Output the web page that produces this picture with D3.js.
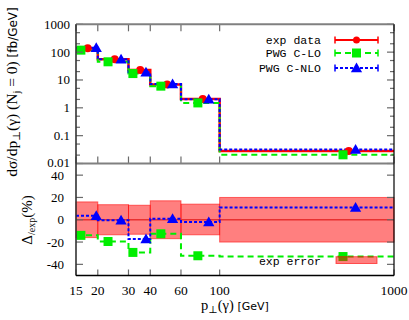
<!DOCTYPE html>
<html><head><meta charset="utf-8">
<script src="https://cdn.jsdelivr.net/npm/d3@7/dist/d3.min.js"></script>
<style>body{margin:0;background:#fff}svg{display:block}</style>
</head><body>
<script>
// ---- data ----
const binEdges = [15, 20, 30, 40, 60, 100, 1000];
const expVals = [137, 55, 22.7, 6.95, 2.06, 0.0284];
const loVals  = [118, 45, 17, 6.0, 1.5, 0.0205];
const nloVals = [145, 55, 19, 7.1, 2.05, 0.032];
const expX = [17.5, 25, 35, 50, 80, 550];
const loX  = [16, 22.9, 31.8, 46, 75, 510];
const nloX = [19.6, 27.2, 37.8, 53.7, 86.6, 602];
const expErrUp = [16, 13.5, 13, 17, 14, 20];
const expErrDn = [-16, -13.5, -13, -17, -13.5, -20];
const loDev  = [-14, -19.5, -29.3, -12.6, -32.3, -33];
const nloDev = [3.5, -0.5, -17.3, 1, -2, 11];
const xTicks = [15, 20, 30, 40, 60, 100, 1000];
const yTopTicks = [0.01, 0.1, 1, 10, 100, 1000];
const yTopLabels = ["0.01", "0.1", "1", "10", "100", "1000"];
const yBotTicks = [-40, -20, 0, 20, 40];
const legendNames = ["exp data", "PWG C-LO", "PWG C-NLO"];
const errLegendName = "exp error";

const W = 409, H = 320;
const L = 76, R = 394, T1 = 24.3, B1 = 163.5, B2 = 275.5;
const RED = "#ff0000", GREEN = "#00ee00", BLUE = "#0000ff";

const svg = d3.select("body").append("svg").attr("width", W).attr("height", H);
const x = d3.scaleLog().domain([15, 1000]).range([L, R]);
const yT = d3.scaleLog().domain([0.01, 1000]).range([B1, T1]);
const yB = d3.scaleLinear().domain([-50, 50]).range([B2, B1 + 0.5]);

const SERIF = "'Liberation Serif', 'DejaVu Serif', serif";
const MONO = "'Liberation Mono', 'DejaVu Sans Mono', monospace";
const SANS = "'DejaVu Sans', sans-serif";

function stepData(vals) {
  const d = binEdges.slice(0, -1).map((e, i) => [e, vals[i]]);
  d.push([binEdges[binEdges.length - 1], vals[vals.length - 1]]);
  return d;
}
const stepTop = d3.line().x(d => x(d[0])).y(d => yT(d[1])).curve(d3.curveStepAfter);
const stepBot = d3.line().x(d => x(d[0])).y(d => yB(d[1])).curve(d3.curveStepAfter);

const tri = d3.symbol().type(d3.symbolTriangle).size(55);
const sq = 9;

// ---- top panel ----
const gTop = svg.append("g");
gTop.append("path").attr("d", stepTop(stepData(expVals))).attr("fill", "none")
  .attr("stroke", RED).attr("stroke-width", 2.5);
gTop.append("path").attr("d", stepTop(stepData(loVals))).attr("fill", "none")
  .attr("stroke", GREEN).attr("stroke-width", 2).attr("stroke-dasharray", "6,4");
gTop.append("path").attr("d", stepTop(stepData(nloVals))).attr("fill", "none")
  .attr("stroke", BLUE).attr("stroke-width", 2).attr("stroke-dasharray", "3,2");
gTop.selectAll(".ec").data(expVals).join("circle").attr("cx", (d, i) => x(expX[i]))
  .attr("cy", d => yT(d)).attr("r", 4).attr("fill", RED);
gTop.selectAll(".ls").data(loVals).join("rect").attr("x", (d, i) => x(loX[i]) - sq / 2)
  .attr("y", d => yT(d) - sq / 2).attr("width", sq).attr("height", sq).attr("fill", GREEN);
gTop.selectAll(".nt").data(nloVals).join("path").attr("d", tri)
  .attr("transform", (d, i) => `translate(${x(nloX[i])},${yT(d) + 1})`).attr("fill", BLUE);

// ---- bottom panel ----
const gBot = svg.append("g");
gBot.selectAll(".band").data(expErrUp).join("rect")
  .attr("x", (d, i) => x(binEdges[i])).attr("width", (d, i) => x(binEdges[i + 1]) - x(binEdges[i]))
  .attr("y", d => yB(d)).attr("height", (d, i) => yB(expErrDn[i]) - yB(d))
  .attr("fill", "rgba(255,0,0,0.5)").attr("stroke", "rgba(255,0,0,0.55)").attr("stroke-width", 1);
gBot.append("line").attr("x1", L).attr("x2", R).attr("y1", yB(0)).attr("y2", yB(0))
  .attr("stroke", "#e83030").attr("stroke-width", 1.5);
gBot.append("path").attr("d", stepBot(stepData(loDev))).attr("fill", "none")
  .attr("stroke", GREEN).attr("stroke-width", 2).attr("stroke-dasharray", "6,4");
gBot.append("path").attr("d", stepBot(stepData(nloDev))).attr("fill", "none")
  .attr("stroke", BLUE).attr("stroke-width", 2).attr("stroke-dasharray", "3,2");
gBot.selectAll(".ls").data(loDev).join("rect").attr("x", (d, i) => x(loX[i]) - sq / 2)
  .attr("y", d => yB(d) - sq / 2).attr("width", sq).attr("height", sq).attr("fill", GREEN);
gBot.selectAll(".nt").data(nloDev).join("path").attr("d", tri)
  .attr("transform", (d, i) => `translate(${x(nloX[i])},${yB(d) + 1})`).attr("fill", BLUE);

// ---- legends ----
const lg = svg.append("g");
const lgY = [40, 53, 68];
const lx1 = 335, lx2 = 378, lxm = 356.5;
lg.selectAll("text").data(legendNames).join("text").attr("x", 321).attr("y", (d, i) => lgY[i] + 4)
  .attr("text-anchor", "end").attr("font-family", MONO).attr("font-size", 11.5).attr("fill", "#000").text(d => d);
const lcols = [RED, GREEN, BLUE], ldash = [null, "6,4", "3,2"];
lgY.forEach((yy, i) => {
  lg.append("line").attr("x1", lx1).attr("x2", lx2).attr("y1", yy).attr("y2", yy)
    .attr("stroke", lcols[i]).attr("stroke-width", 2).attr("stroke-dasharray", ldash[i]);
  [lx1, lx2].forEach(xx => lg.append("line").attr("x1", xx).attr("x2", xx).attr("y1", yy - 3.5).attr("y2", yy + 3.5)
    .attr("stroke", lcols[i]).attr("stroke-width", 1.5));
});
lg.append("circle").attr("cx", lxm).attr("cy", lgY[0]).attr("r", 3.5).attr("fill", RED);
lg.append("rect").attr("x", lxm - sq / 2).attr("y", lgY[1] - sq / 2).attr("width", sq).attr("height", sq).attr("fill", GREEN);
lg.append("path").attr("d", tri).attr("transform", `translate(${lxm},${lgY[2] + 1})`).attr("fill", BLUE);
lg.append("text").attr("x", 321).attr("y", 265).attr("text-anchor", "end").attr("font-family", MONO)
  .attr("font-size", 11.5).text(errLegendName);
lg.append("rect").attr("x", 336).attr("y", 256.7).attr("width", 41).attr("height", 6.8)
  .attr("fill", "rgba(255,0,0,0.5)").attr("stroke", "rgba(255,0,0,0.6)").attr("stroke-width", 1);

// ---- axes / frame ----
const ax = svg.append("g");
const TK = "#6a6a6a";
const FS = 13;
yTopTicks.forEach((v, i) => {
  const yy = yT(v);
  ax.append("line").attr("x1", L).attr("x2", L + 7).attr("y1", yy).attr("y2", yy).attr("stroke", TK).attr("stroke-width", 1.2);
  ax.append("line").attr("x1", R).attr("x2", R - 7).attr("y1", yy).attr("y2", yy).attr("stroke", TK).attr("stroke-width", 1.2);
  ax.append("text").attr("x", 70).attr("y", yy + (i === 0 ? 3 : 4.5)).attr("text-anchor", "end").attr("font-family", SERIF)
    .attr("font-size", FS).text(yTopLabels[i]);
  if (i < yTopTicks.length - 1) [2, 5].forEach(m => {
    const y2 = yT(v * m);
    ax.append("line").attr("x1", L).attr("x2", L + 4).attr("y1", y2).attr("y2", y2).attr("stroke", TK).attr("stroke-width", 1.2);
    ax.append("line").attr("x1", R).attr("x2", R - 4).attr("y1", y2).attr("y2", y2).attr("stroke", TK).attr("stroke-width", 1.2);
  });
});
yBotTicks.forEach(v => {
  const yy = yB(v);
  ax.append("line").attr("x1", L).attr("x2", L + 7).attr("y1", yy).attr("y2", yy).attr("stroke", TK).attr("stroke-width", 1.2);
  ax.append("line").attr("x1", R).attr("x2", R - 7).attr("y1", yy).attr("y2", yy).attr("stroke", TK).attr("stroke-width", 1.2);
  ax.append("text").attr("x", 64).attr("y", yy + (v === 40 ? 5 : 4.5)).attr("text-anchor", "end").attr("font-family", SERIF)
    .attr("font-size", FS).text(String(v));
});
xTicks.forEach(v => {
  const xx = x(v);
  ax.append("line").attr("x1", xx).attr("x2", xx).attr("y1", T1).attr("y2", T1 + 7).attr("stroke", TK).attr("stroke-width", 1.2);
  ax.append("line").attr("x1", xx).attr("x2", xx).attr("y1", B1).attr("y2", B1 - 7).attr("stroke", TK).attr("stroke-width", 1.2);
  ax.append("line").attr("x1", xx).attr("x2", xx).attr("y1", B2).attr("y2", B2 - 6).attr("stroke", TK).attr("stroke-width", 1.2);
  ax.append("text").attr("x", xx).attr("y", 295).attr("text-anchor", "middle").attr("font-family", SERIF)
    .attr("font-size", FS + 0.5).text(String(v));
});
ax.append("line").attr("x1", L).attr("x2", R).attr("y1", T1).attr("y2", T1).attr("stroke", "#808080").attr("stroke-width", 2);
ax.append("line").attr("x1", L).attr("x2", R).attr("y1", B1).attr("y2", B1).attr("stroke", "#808080").attr("stroke-width", 2);
ax.append("line").attr("x1", L).attr("x2", L).attr("y1", T1).attr("y2", B2).attr("stroke", "#333").attr("stroke-width", 1.6);
ax.append("line").attr("x1", R).attr("x2", R).attr("y1", T1).attr("y2", B2).attr("stroke", "#000").attr("stroke-width", 1.2);
ax.append("line").attr("x1", L).attr("x2", R).attr("y1", B2).attr("y2", B2).attr("stroke", "#000").attr("stroke-width", 1.4);

// ---- axis titles ----
const xt = svg.append("text").attr("x", 235).attr("y", 310).attr("text-anchor", "middle")
  .attr("font-family", SERIF).attr("font-size", 14.5);
xt.append("tspan").text("p");
xt.append("tspan").attr("font-size", 10).attr("dy", 3).text("⊥");
xt.append("tspan").attr("dy", -3).text("(γ) ");
xt.append("tspan").attr("font-family", SANS).attr("font-size", 11).text("[GeV]");

const yt = svg.append("text").attr("transform", `translate(17,92) rotate(-90)`).attr("text-anchor", "middle")
  .attr("font-family", SERIF).attr("font-size", 15.5);
yt.append("tspan").text("dσ/dp");
yt.append("tspan").attr("font-size", 10.5).attr("dy", 3).text("⊥");
yt.append("tspan").attr("dy", -3).text("(γ) (N");
yt.append("tspan").attr("font-size", 10.5).attr("dy", 3).text("j");
yt.append("tspan").attr("dy", -3).text(" = 0) ");
yt.append("tspan").attr("font-family", SANS).attr("font-size", 12).text("[fb/GeV]");

const yb = svg.append("text").attr("transform", `translate(32,220) rotate(-90)`).attr("text-anchor", "middle")
  .attr("font-family", SERIF).attr("font-size", 15);
yb.append("tspan").text("Δ");
yb.append("tspan").attr("font-size", 10).attr("dy", 3).text("/exp");
yb.append("tspan").attr("dy", -3).text("(%)");
</script>
</body></html>
